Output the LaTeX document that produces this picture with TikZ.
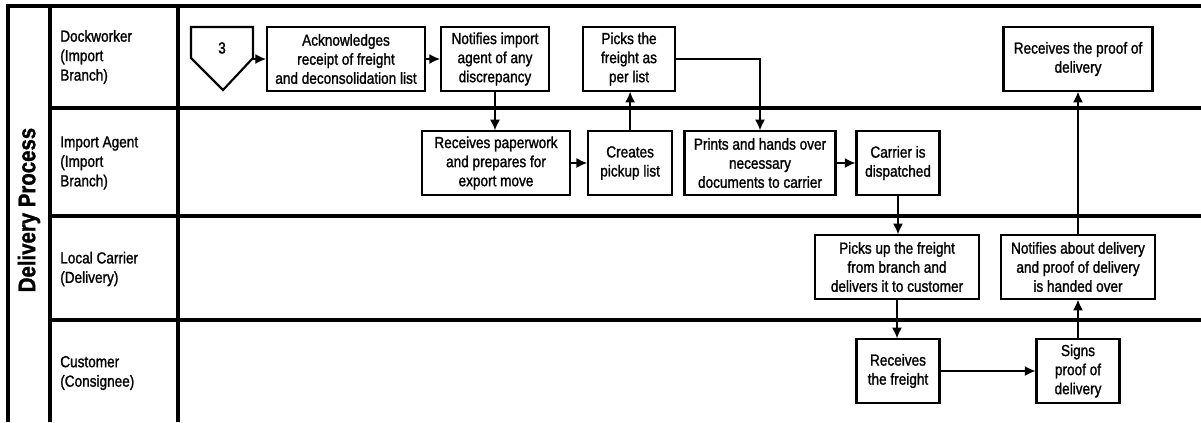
\documentclass[tikz,border=0pt]{standalone}
\usepackage{fontspec}
\setmainfont{Liberation Sans}[FakeStretch=0.85, FakeBold=1.3]
\usetikzlibrary{arrows.meta,positioning,calc}

\tikzstyle{lane} = [line width=2.4pt]
\tikzstyle{task} = [draw, line width=1.6pt, align=center, inner sep=2pt, minimum height=47.5pt, font=\fontsize{12}{14.3}\selectfont]
\tikzstyle{actor} = [anchor=west, align=left, inner sep=0pt, font=\fontsize{12}{14.6}\selectfont]
\tikzstyle{flow} = [>={Latex[length=8pt,width=7.5pt]},->,line width=1pt]

\begin{document}
\begin{tikzpicture}[x=0.75pt, y=-0.75pt]
    \useasboundingbox (0,0) rectangle (1201,422);

    % swimlane frame
    \draw[lane] (8,422) -- (8,6) -- (1201,6);
    \draw[lane] (50,6) -- (50,422);
    \draw[lane] (178,6) -- (178,422);
    \foreach \y in {108,216,320}
      \draw[lane] (50,\y) -- (1201,\y);

    \node[rotate=90, font=\bfseries\fontsize{18}{20}\selectfont] (title) at (29,210) {Delivery Process};

    % lane names
    \node[actor] (dock) at (60,57) {Dockworker\\(Import\\Branch)};
    \node[actor] (agent) at (60,163) {Import Agent\\(Import\\Branch)};
    \node[actor] (carrier) at (60,269) {Local Carrier\\(Delivery)};
    \node[actor] (customer) at (60,373) {Customer\\(Consignee)};

    % off-page connector
    \draw[line width=1.6pt] (191,27) -- (253,27) -- (253,58) -- (223,90) -- (191,58) -- cycle;
    \node[font=\fontsize{12}{14}\selectfont] (three) at (222,48) {3};
    \coordinate (startout) at (253,59);

    % dockworker
    \node[task, minimum width=118.5pt] (ack) at (346,59) {Acknowledges\\receipt of freight\\and deconsolidation list};
    \node[task, minimum width=81pt] (notify) at (495,59) {Notifies import\\agent of any\\discrepancy};
    \node[task, minimum width=69pt] (picks) at (629,59) {Picks the\\freight as\\per list};
    \node[task, minimum width=111.75pt] (proof) at (1078,59) {Receives the proof of\\delivery};

    % import agent
    \node[task, minimum width=111pt] (paper) at (496,163) {Receives paperwork\\and prepares for\\export move};
    \node[task, minimum width=63pt] (pickup) [right=12pt of paper] {Creates\\pickup list};
    \node[task, minimum width=113.25pt] (prints) at (760,163) {Prints and hands over\\necessary\\documents to carrier};
    \node[task, minimum width=62.25pt] (dispatch) at (898,163) {Carrier is\\dispatched};

    % local carrier
    \node[task, minimum width=123pt] (deliver) at (897,267) {Picks up the freight\\from branch and\\delivers it to customer};
    \node[task, minimum width=115.5pt] (handover) at (1078,267) {Notifies about delivery\\and proof of delivery\\is handed over};

    % customer
    \node[task, minimum width=62.25pt] (received) at (898,371) {Receives\\the freight};
    \node[task, minimum width=62.25pt] (signs) at (1078,371) {Signs\\proof of\\delivery};

    % arrows
    \draw[flow] (startout) -- (ack);
    \draw[flow] (ack) -- (notify);
    \draw[flow] (notify.south) -- (notify.south |- paper.north);
    \draw[flow] (paper) -- (pickup);
    \draw[flow] (pickup) -- (pickup |- picks.south);
    \draw[flow] (picks.east) -| (prints.north);
    \draw[flow] (prints) -- (dispatch);
    \draw[flow] (dispatch.south) -- (dispatch.south |- deliver.north);
    \draw[flow] (deliver.south) -- (deliver.south |- received.north);
    \draw[flow] (received) -- (signs);
    \draw[flow] (signs) -- (handover);
    \draw[flow] (handover) -- (proof);
\end{tikzpicture}
\end{document}
